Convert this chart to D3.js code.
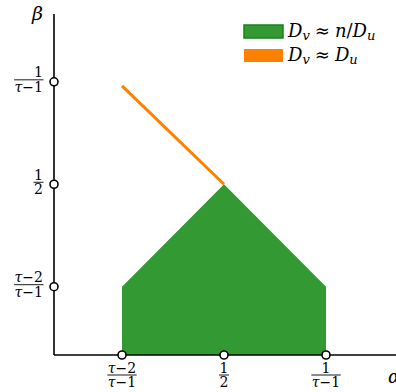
<!DOCTYPE html>
<html>
<head>
<meta charset="utf-8">
<script src="https://cdn.jsdelivr.net/npm/d3@7"></script>
<style>
  body { margin: 0; background: #fff; }
  svg { display: block; }
  text { font-family: "DejaVu Serif", "Liberation Serif", serif; fill: #000; }
</style>
</head>
<body>
<div id="chart"></div>
<script>
/*
 * Data
 *****************************/
const tau = 2.5;
const tickValues = [(tau - 2) / (tau - 1), 1 / 2, 1 / (tau - 1)];
const tickNums = ["τ−2", "1", "1"];
const tickDens = ["τ−1", "2", "τ−1"];

// green region D_v ≈ n/D_u (bottom edge sits on the alpha axis)
const regionAlpha = [1 / 3, 1 / 3, 1 / 2, 2 / 3, 2 / 3];
const regionBeta = [null, 1 / 3, 1 / 2, 1 / 3, null];

// orange segment D_v ≈ D_u
const lineAlpha = [1 / 3, 1 / 2];
const lineBeta = [0.66, 0.5];

/*
 * Parameters
 *****************************/
const width = 396, height = 392;
const green = "#339933", orange = "#ff8000";

const svg = d3.select("#chart").append("svg")
  .attr("width", width)
  .attr("height", height);

const xScale = d3.scaleLinear().domain([2 / 9, 0.781]).range([54, 396]);
const yScale = d3.scaleLinear().domain([0.2222, 0.777]).range([355, 14]);
const floor = yScale.domain()[0];

// region polygon
const region = regionAlpha.map((a, i) => [xScale(a), yScale(regionBeta[i] == null ? floor : regionBeta[i])]);
svg.append("path")
  .attr("d", d3.line()(region) + "Z")
  .attr("fill", green);

// orange line
svg.append("path")
  .attr("d", d3.line()(lineAlpha.map((a, i) => [xScale(a), yScale(lineBeta[i])])))
  .attr("fill", "none")
  .attr("stroke", orange)
  .attr("stroke-width", 3);

// axes
svg.append("line")
  .attr("x1", xScale.range()[0]).attr("x2", xScale.range()[1])
  .attr("y1", yScale(floor)).attr("y2", yScale(floor))
  .attr("stroke", "#000").attr("stroke-width", 1.6);
svg.append("line")
  .attr("x1", xScale(2 / 9)).attr("x2", xScale(2 / 9))
  .attr("y1", yScale.range()[0]).attr("y2", yScale.range()[1])
  .attr("stroke", "#000").attr("stroke-width", 1.6);

// fraction label helper
function fraction(g, num, den, x, yBar, anchor) {
  const fs = 14;
  const n = g.append("text").attr("x", x).attr("y", yBar - 2.5)
    .attr("text-anchor", anchor).style("font-size", fs + "px");
  const d = g.append("text").attr("x", x).attr("y", yBar + 12)
    .attr("text-anchor", anchor).style("font-size", fs + "px");
  [[n, num], [d, den]].forEach(([t, s]) => {
    s.split(/(τ)/).filter(p => p).forEach(p => {
      t.append("tspan").style("font-style", p === "τ" ? "italic" : "normal").text(p);
    });
  });
  const w = Math.max(n.node().getComputedTextLength(), d.node().getComputedTextLength());
  const x0 = anchor === "end" ? x - w : x - w / 2;
  g.append("line").attr("x1", x0 - 0.5).attr("x2", x0 + w + 0.5)
    .attr("y1", yBar).attr("y2", yBar)
    .attr("stroke", "#000").attr("stroke-width", 0.9);
}

// x ticks
tickValues.forEach((v, i) => {
  fraction(svg.append("g"), tickNums[i], tickDens[i], xScale(v), 375, "middle");
});
// y ticks
tickValues.forEach((v, i) => {
  fraction(svg.append("g"), tickNums[i], tickDens[i], 43, yScale(v) - 2, "end");
});

// tick circles
const circles = tickValues.map(v => [xScale(v), yScale(floor)])
  .concat(tickValues.map(v => [xScale(2 / 9), yScale(v)]));
svg.selectAll("circle.tick").data(circles).enter().append("circle")
  .attr("class", "tick")
  .attr("cx", d => d[0]).attr("cy", d => d[1]).attr("r", 4)
  .attr("fill", "#fff").attr("stroke", "#000").attr("stroke-width", 1.6);

// axis names
svg.append("text").attr("x", 32).attr("y", 20)
  .style("font-size", "19px").style("font-style", "italic").attr("fill", "#444").text("β");
svg.append("text").attr("x", 388).attr("y", 383)
  .style("font-size", "18px").style("font-style", "italic").attr("fill", "#444").text("α");

// legend
const legend = svg.append("g");
[green, orange].forEach((c, i) => {
  const y = 25 + i * 24;
  legend.append("rect").attr("x", 244).attr("y", y).attr("width", 39).attr("height", 13)
    .attr("fill", c)
    .attr("stroke", i === 0 ? "#1a801a" : "none").attr("stroke-width", 1.5);
  const t = legend.append("text").attr("x", 288).attr("y", y + 12).style("font-size", "18px");
  t.append("tspan").style("font-style", "italic").text("D");
  t.append("tspan").style("font-style", "italic").style("font-size", "13px").attr("dy", 3).text("v");
  t.append("tspan").attr("dy", -3).attr("dx", 5).text("≈");
  if (i === 0) {
    t.append("tspan").attr("dx", 5).style("font-style", "italic").text("n");
    t.append("tspan").text("/");
    t.append("tspan").style("font-style", "italic").text("D");
  } else {
    t.append("tspan").attr("dx", 5).style("font-style", "italic").text("D");
  }
  t.append("tspan").style("font-style", "italic").style("font-size", "13px").attr("dy", 3).text("u");
});
</script>
</body>
</html>
